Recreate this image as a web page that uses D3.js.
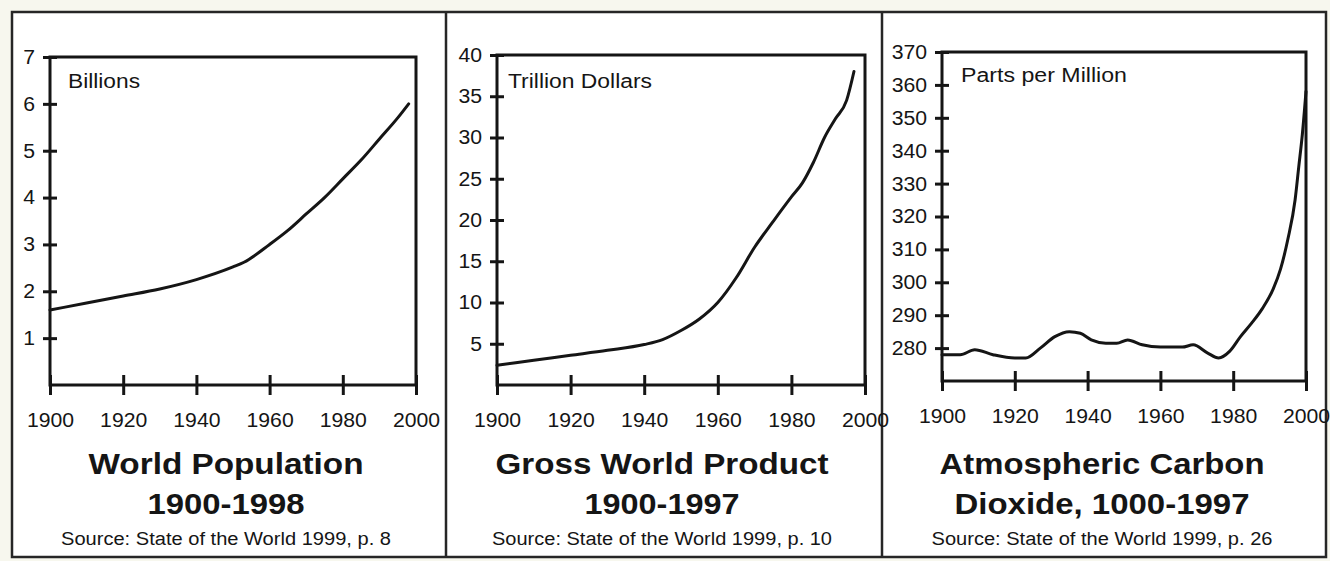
<!DOCTYPE html>
<html>
<head>
<meta charset="utf-8">
<script src="https://cdn.jsdelivr.net/npm/d3@7"></script>
<style>
  html, body { margin: 0; padding: 0; background: #f7f7ee; }
  svg { display: block; }
  text { font-family: "Liberation Sans", Arial, Helvetica, sans-serif; fill: #151515; }
</style>
</head>
<body>
<svg id="chart" width="1330" height="561"></svg>
<script>
// ---- data ----
const xTicks = [1900, 1920, 1940, 1960, 1980, 2000];

const popYears  = [1900, 1910, 1920, 1930, 1940, 1950, 1953, 1960, 1965, 1970, 1975, 1980, 1985, 1990, 1995, 1998];
const popValues = [1.6, 1.75, 1.9, 2.05, 2.25, 2.52, 2.62, 3.0, 3.3, 3.65, 4.0, 4.4, 4.8, 5.25, 5.7, 6.0];
const popTicks  = [1, 2, 3, 4, 5, 6, 7];

const gwpYears  = [1900, 1910, 1920, 1930, 1940, 1945, 1950, 1955, 1960, 1965, 1970, 1975, 1980, 1983, 1986, 1989, 1992, 1995, 1997];
const gwpValues = [2.4, 3.0, 3.6, 4.2, 4.9, 5.5, 6.6, 8.0, 10.0, 13.0, 16.7, 19.8, 22.8, 24.5, 27.0, 30.0, 32.3, 34.5, 38.0];
const gwpTicks  = [5, 10, 15, 20, 25, 30, 35, 40];

const co2Years  = [1900, 1905, 1909, 1914, 1920, 1923, 1927, 1931, 1935, 1938, 1941, 1945, 1948, 1951, 1955, 1960, 1966, 1969, 1973, 1976, 1979, 1982, 1985, 1988, 1991, 1993, 1995, 1997, 1998, 1999, 2000];
const co2Values = [278, 278, 279.5, 278, 277, 277, 280, 283.5, 285, 284.5, 282.5, 281.5, 281.5, 282.5, 281, 280.3, 280.3, 281, 278.5, 277, 279, 283.5, 287.5, 292, 298, 304, 313, 325, 335, 345, 358];
const co2Ticks  = [280, 290, 300, 310, 320, 330, 340, 350, 360, 370];

const unitLabels = ["Billions", "Trillion Dollars", "Parts per Million"];
const titleLines = [
  ["World Population", "1900-1998"],
  ["Gross World Product", "1900-1997"],
  ["Atmospheric Carbon", "Dioxide, 1000-1997"]
];
const sources = [
  "Source: State of the World 1999, p. 8",
  "Source: State of the World 1999, p. 10",
  "Source: State of the World 1999, p. 26"
];

// ---- layout ----
const panels = [
  { years: popYears, values: popValues, ticks: popTicks, yDomain: [0, 7],
    left: 50, right: 416, top: 57, bottom: 385, cx: 226,
    unitPos: [68, 88], unitW: 72, titleW: [275, 157], sourceW: 330 },
  { years: gwpYears, values: gwpValues, ticks: gwpTicks, yDomain: [0, 40],
    left: 497, right: 865, top: 55, bottom: 385, cx: 662,
    unitPos: [508, 88], unitW: 144, titleW: [333, 155], sourceW: 340 },
  { years: co2Years, values: co2Values, ticks: co2Ticks, yDomain: [270, 370],
    left: 942, right: 1306, top: 52, bottom: 381, cx: 1102,
    unitPos: [961, 82], unitW: 166, titleW: [325, 295], sourceW: 341 }
];

const svg = d3.select("#chart");
const ink = "#151515";

// outer frame and panel dividers
svg.append("rect")
  .attr("x", 12).attr("y", 12).attr("width", 1314).attr("height", 545)
  .attr("fill", "#ffffff").attr("stroke", "#262626").attr("stroke-width", 2.5);
[446, 882].forEach(xd => {
  svg.append("line")
    .attr("x1", xd).attr("x2", xd).attr("y1", 12).attr("y2", 557)
    .attr("stroke", "#262626").attr("stroke-width", 2.5);
});

// widen glyphs slightly to the measured width
function stretchTo(sel, width) {
  sel.attr("textLength", width).attr("lengthAdjust", "spacingAndGlyphs");
}
function stretchBy(sel, k) {
  sel.each(function () {
    const w = this.getComputedTextLength();
    d3.select(this).attr("textLength", w * k).attr("lengthAdjust", "spacingAndGlyphs");
  });
}

panels.forEach((p, i) => {
  const x = d3.scaleLinear().domain([1900, 2000]).range([p.left, p.right]);
  const y = d3.scaleLinear().domain(p.yDomain).range([p.bottom, p.top]);
  const g = svg.append("g");

  // plot box
  g.append("rect")
    .attr("x", x(1900)).attr("y", y(p.yDomain[1]))
    .attr("width", x(2000) - x(1900)).attr("height", y(p.yDomain[0]) - y(p.yDomain[1]))
    .attr("fill", "none").attr("stroke", ink).attr("stroke-width", 3);

  // x axis
  const xa = g.append("g")
    .attr("transform", `translate(0,${y(p.yDomain[0])})`)
    .call(d3.axisBottom(x).tickValues(xTicks).tickFormat(d3.format("d")).tickSizeOuter(0));
  xa.select(".domain").remove();
  xa.selectAll(".tick line")
    .attr("y1", -10).attr("y2", 10)
    .attr("stroke", ink).attr("stroke-width", 3);
  xa.selectAll(".tick text")
    .attr("y", 28).attr("dy", "0.71em")
    .attr("font-size", 20).attr("fill", ink)
    .style("font-family", "'Liberation Sans', Arial, sans-serif");
  stretchBy(xa.selectAll(".tick text"), 1.06);

  // y axis
  const ya = g.append("g")
    .attr("transform", `translate(${x(1900)},0)`)
    .call(d3.axisLeft(y).tickValues(p.ticks).tickFormat(d3.format("d")).tickSizeOuter(0));
  ya.select(".domain").remove();
  ya.selectAll(".tick line")
    .attr("x1", -7).attr("x2", 7)
    .attr("stroke", ink).attr("stroke-width", 3);
  ya.selectAll(".tick text")
    .attr("x", -15)
    .attr("font-size", 20).attr("fill", ink)
    .style("font-family", "'Liberation Sans', Arial, sans-serif");
  stretchBy(ya.selectAll(".tick text"), 1.06);

  // data line
  const line = d3.line()
    .x((d, k) => x(p.years[k]))
    .y(d => y(d))
    .curve(d3.curveMonotoneX);
  g.append("path")
    .datum(p.values)
    .attr("d", line)
    .attr("fill", "none")
    .attr("stroke", ink)
    .attr("stroke-width", 3)
    .attr("stroke-linejoin", "round")
    .attr("stroke-linecap", "round");

  // unit label inside the plot box
  g.append("text")
    .attr("x", p.unitPos[0]).attr("y", p.unitPos[1])
    .attr("font-size", 20)
    .text(unitLabels[i])
    .call(stretchTo, p.unitW);

  // title lines and source
  g.append("text")
    .attr("x", p.cx).attr("y", 474)
    .attr("text-anchor", "middle")
    .attr("font-size", 30).attr("font-weight", "bold")
    .text(titleLines[i][0])
    .call(stretchTo, p.titleW[0]);
  g.append("text")
    .attr("x", p.cx).attr("y", 514)
    .attr("text-anchor", "middle")
    .attr("font-size", 30).attr("font-weight", "bold")
    .text(titleLines[i][1])
    .call(stretchTo, p.titleW[1]);
  g.append("text")
    .attr("x", p.cx).attr("y", 545)
    .attr("text-anchor", "middle")
    .attr("font-size", 18)
    .text(sources[i])
    .call(stretchTo, p.sourceW);
});
</script>
</body>
</html>
